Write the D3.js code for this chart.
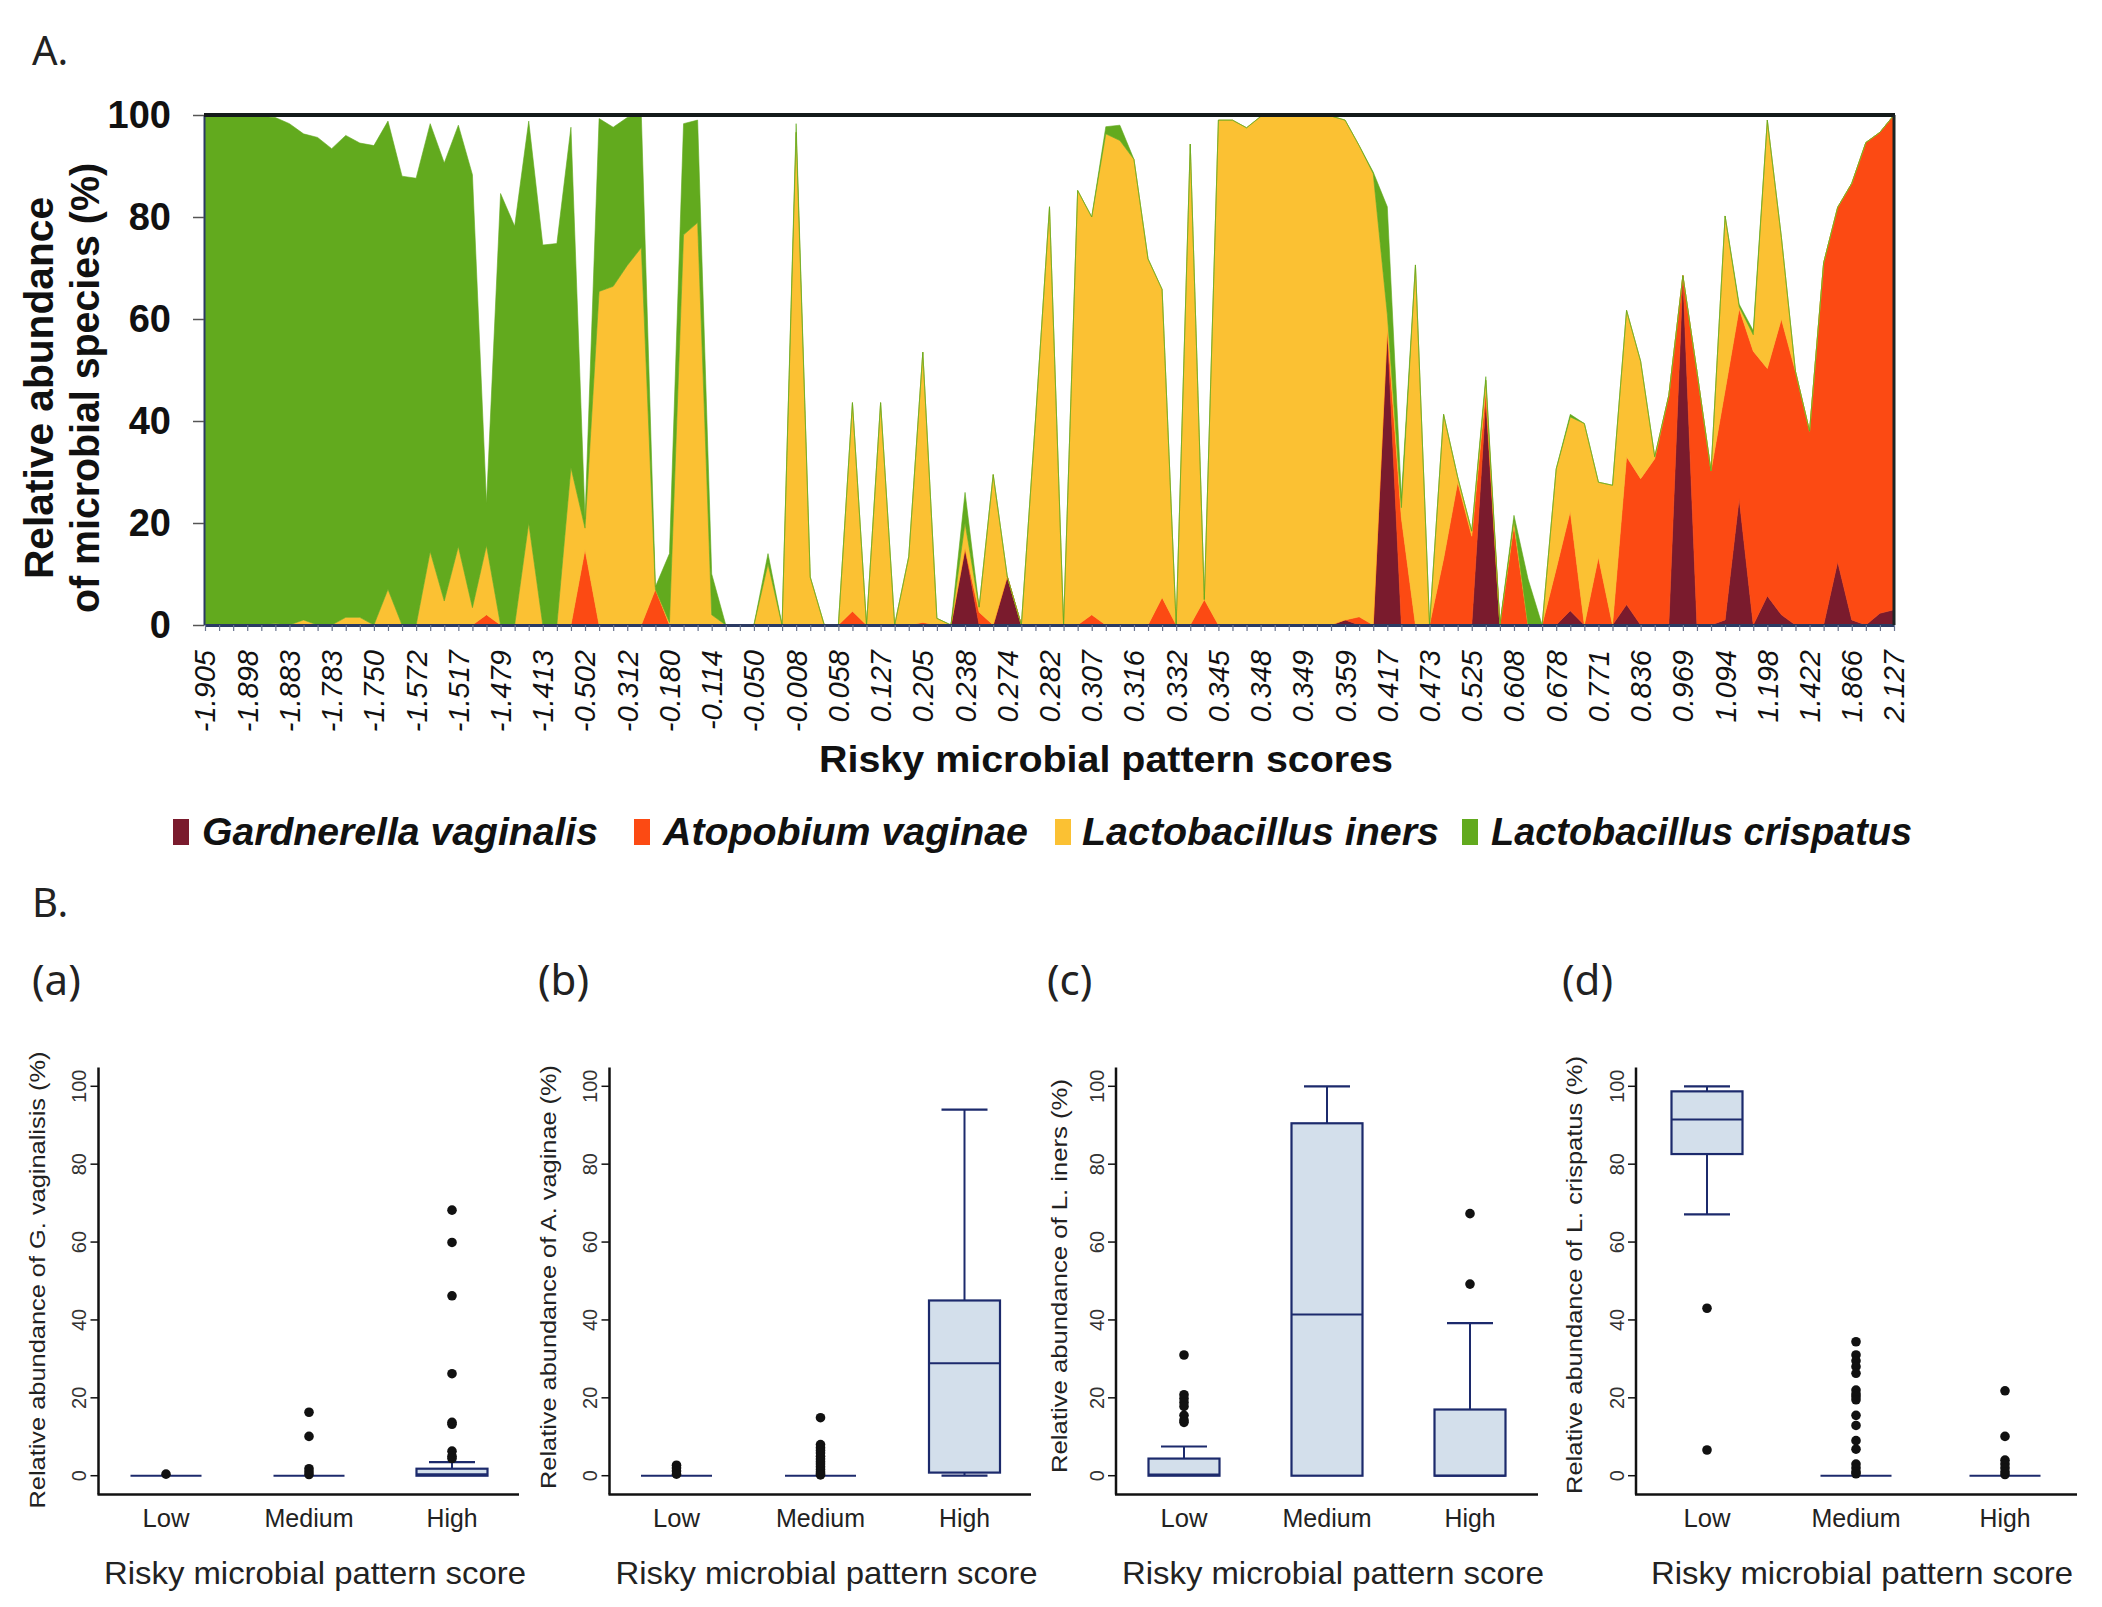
<!DOCTYPE html>
<html><head><meta charset="utf-8">
<script src="https://cdn.jsdelivr.net/npm/d3@7"></script>
<style>body{margin:0;background:#fff} svg{display:block}</style>
</head><body>
<script>
// ---------------- DATA ----------------
const tickLabels = ["-1.905","-1.898","-1.883","-1.783","-1.750","-1.572","-1.517","-1.479","-1.413","-0.502","-0.312","-0.180","-0.114","-0.050","-0.008","0.058","0.127","0.205","0.238","0.274","0.282","0.307","0.316","0.332","0.345","0.348","0.349","0.359","0.417","0.473","0.525","0.608","0.678","0.771","0.836","0.969","1.094","1.198","1.422","1.866","2.127"];
const labelEvery = 3;

const gardnerella = [0,0,0,0,0,0,0,0,0,0, 0,0,0,0,0,0,0,0,0,0, 0,0,0,0,0,0,0,0,0,0,
 0,0,0,0,0,0,0,0,0,0, 0,0,0,0,0,0,0,0,0,0, 0,0,0,0,15,0,0,9.5,0,0,
 0,0,0,0,0,0,0,0,0,0, 0,0,0,0,0,0,0,0,0,0, 0,1,0,0,58,0,0,0,0,0,
 0,44,0,0,0,0,0,2.8,0,0, 0,4,0,0,0,68.5,0,0,1,24.8, 0,5.7,2,0,0,0,12.4,1,0,2.3, 3];
const atopobium = [0,0,0,0,0,0,0,0,0,0, 0,0,0,0,0,0,0,0,0,0, 2,0,0,0,0,0,0,14.8,0,0,
 0,0,7,0,0,0,0,0,0,0, 0,0,0,0,0,0,2.7,0,0,0, 0,0.5,0,0,0,2.5,0,0,0,0,
 0,0,0,2,0,0,0,0,5.4,0, 0,5,0,0,0,0,0,0,0,0, 0,0,1.6,0,0,21,0,0,13,28,
 17.4,2,0,19.5,0,0,11,19.5,0,13.3, 0,29,28.7,32.6,45,0,49.7,30.2,45,37.2, 53.7,44.6,58,49.7,38,71,69.5,85.6,94.6,94.3, 97];
const iners = [0,0,0,0,0,0.3,0,1,0,0, 1.5,1.5,0,7,0,0,14.4,4.7,15.4,3.4, 13.6,0,0,20,0,0,30.9,4.2,65.4,66.4,
 70.5,74,0,0.5,76.5,78.9,2,0,0,0, 12,0,96.6,9.4,0,0,40.9,0,43.6,0, 13.4,53,1.3,0,5,1,29.5,0,0,40,
 82,0,85.2,78,96.3,95,91.3,71.8,60.4,0, 94.3,0,99,99,97.5,99.7,100,100,99.7,100, 99.8,98,92.4,88.5,3,2,70.6,0,28.3,1,
 1,2,0,1,0,0,19.6,18.5,39.5,14.7, 27.4,28.7,23,0.4,0,0,0,0,34.2,0.4, 3.2,48.7,16,0,0,0,0,0,0,0, 0];
const crispatus = [100,100,100,99.8,99.7,99.2,98.3,95.3,95.6,93.4, 94.5,93,94,91.8,88,87.6,83.9,85.9,82.6,84.9, 8.2,84.6,78.2,78.8,74.5,74.8,66.7,1.8,33.9,31.2,
 29,26,0.5,13.5,21.8,20.1,8,0,0,0, 2,0,1.7,0,0,0,0,0,0,0, 0,0,0,0,6,0,0,0,0,0,
 0,0,0,0,1.4,3,0,0,0,0, 0,0,0,0,0,0,0,0,0.3,0, 0,0,0,0.3,21,2,0,0,0,0,
 0,0.7,0,1,9,0,0,0.5,0,0, 0,0,0,0,0,0,0,0,0,0.5, 0.8,0,0,0,0,0,0,0,0,0, 0];

const speciesNames = ["Gardnerella vaginalis","Atopobium vaginae","Lactobacillus iners","Lactobacillus crispatus"];
const speciesColors = ["#7a1b2d","#fc4a13","#fbc133","#62aa1e"];

const boxCategories = ["Low","Medium","High"];
const yTicksB = [0,20,40,60,80,100];
// box stats: [q1, median, q3, whiskerLow, whiskerHigh]
const statsGV = [[0,0,0,0,0],[0,0,0,0,0],[0,0.4,1.8,0,3.5]];
const outGV = [[0.4],[16.3,10.1,1.8,1.0,0.3],[68.2,59.9,46.2,26.2,13.7,13.2,6.3,5.0,4.4]];
const statsAV = [[0,0,0,0,0],[0,0,0,0,0],[0.8,28.9,45,0,94]];
const outAV = [[2.7,2,1.2,0.4],[14.9,8,7.2,6.5,5.8,5,4.3,3.6,3,2.3,1.6,1,0.5,0.2],[]];
const statsLI = [[0,0.3,4.4,0,7.5],[0,41.4,90.5,0,100],[0,0,17,0,39.2]];
const outLI = [[31,20.8,19.8,18.8,17.8,15.5,14.3,13.7],[],[67.3,49.2]];
const statsLC = [[82.6,91.5,98.7,67.1,100],[0,0,0,0,0],[0,0,0,0,0]];
const outLC = [[43,6.6],[34.4,31,29.5,28,26.3,22,21,20.3,19.5,15.5,12.9,9,6.8,3,2,1,0.5],[21.8,10.1,4,3,2,1,0.3]];

const panelLetters = ["(a)","(b)","(c)","(d)"];
const panelTitles = ["Relative abundance of G. vaginalisis (%)","Relative abundance of A. vaginae (%)","Relative abundance of L. iners (%)","Relative abundance of L. crispatus (%)"];

// ---------------- DRAW ----------------
const W = 2102, H = 1607;
const svg = d3.select("body").append("svg").attr("width", W).attr("height", H);
svg.append("rect").attr("width", W).attr("height", H).attr("fill", "#fff");
const SANS = "'Liberation Sans', Arial, sans-serif";
const LBL = "'Noto Sans', 'Open Sans', sans-serif";

// ---- Panel A ----
const aLeft = 205, aRight = 1894, aTop = 115, aBottom = 625;
const n = gardnerella.length;
const xA = d3.scaleLinear().domain([0, n - 1]).range([aLeft, aRight]);
const yA = d3.scaleLinear().domain([0, 100]).range([aBottom, aTop]);

svg.append("text").attr("x", 32).attr("y", 65).attr("font-family", LBL)
  .attr("font-size", 40).attr("fill", "#222").text("A.");

svg.append("defs").append("clipPath").attr("id", "clipA").append("rect")
  .attr("x", aLeft).attr("y", aTop).attr("width", aRight - aLeft).attr("height", aBottom - aTop);

const rows = d3.range(n).map(i => ({i, g: gardnerella[i], a: atopobium[i], l: iners[i], c: crispatus[i]}));
const series = d3.stack().keys(["g", "a", "l", "c"])(rows);
const area = d3.area().x(d => xA(d.data.i)).y0(d => yA(d[0])).y1(d => yA(d[1]));
svg.append("g").attr("clip-path", "url(#clipA)")
  .selectAll("path").data(series).join("path")
  .attr("d", area).attr("fill", (d, k) => speciesColors[k])
  .attr("stroke", (d, k) => speciesColors[k]).attr("stroke-width", 0.6);

// left axis
const gyA = svg.append("g").attr("transform", `translate(${aLeft - 1},0)`)
  .call(d3.axisLeft(yA).tickValues([0, 20, 40, 60, 80, 100]).tickSize(11).tickPadding(22).tickSizeOuter(0));
gyA.select(".domain").attr("stroke", "#2a3a63").attr("stroke-width", 2);
gyA.selectAll(".tick line").attr("stroke", "#555").attr("stroke-width", 1.5);
gyA.selectAll(".tick text").attr("font-family", SANS).attr("font-weight", "bold")
  .attr("font-size", 38).attr("fill", "#111");

// bottom axis (ticks at every sample)
const gxA = svg.append("g").attr("transform", `translate(0,${aBottom})`)
  .call(d3.axisBottom(xA).tickValues(d3.range(n)).tickSize(6).tickFormat("").tickSizeOuter(0));
gxA.select(".domain").attr("stroke", "#2a3a63").attr("stroke-width", 3);
gxA.selectAll(".tick line").attr("stroke", "#6a7590").attr("stroke-width", 1.2);

// frame top/right
svg.append("line").attr("x1", aLeft - 1).attr("x2", aRight + 1).attr("y1", aTop).attr("y2", aTop)
  .attr("stroke", "#141a1a").attr("stroke-width", 4);
svg.append("line").attr("x1", aRight).attr("x2", aRight).attr("y1", aTop).attr("y2", aBottom)
  .attr("stroke", "#1c2424").attr("stroke-width", 3);

// x tick labels (every 3rd sample)
svg.append("g").selectAll("text").data(tickLabels).join("text")
  .attr("transform", (d, k) => `translate(${xA(k * labelEvery)},650) rotate(-90)`)
  .attr("text-anchor", "end").attr("dy", "0.36em")
  .attr("font-family", SANS).attr("font-style", "italic").attr("font-size", 29).attr("fill", "#111")
  .text(d => d);

svg.append("text").attr("x", 1106).attr("y", 772).attr("text-anchor", "middle")
  .attr("font-family", SANS).attr("font-weight", "bold").attr("font-size", 37).attr("fill", "#111")
  .attr("textLength", 574).attr("lengthAdjust", "spacingAndGlyphs")
  .text("Risky microbial pattern scores");

// y title
const yt = svg.append("text").attr("transform", "translate(53,388) rotate(-90)")
  .attr("text-anchor", "middle").attr("font-family", SANS).attr("font-weight", "bold")
  .attr("font-size", 40).attr("fill", "#111");
yt.append("tspan").attr("x", 0).attr("y", 0).attr("textLength", 382).attr("lengthAdjust", "spacingAndGlyphs").text("Relative abundance");
yt.append("tspan").attr("x", 0).attr("y", 46).attr("textLength", 450).attr("lengthAdjust", "spacingAndGlyphs").text("of microbial species (%)");

// legend
const legSq = [173, 634, 1055, 1462], legTx = [202, 663, 1082, 1491], legLen = [396, 365, 357, 421];
const leg = svg.append("g");
leg.selectAll("rect").data(speciesNames).join("rect")
  .attr("x", (d, k) => legSq[k]).attr("y", 819).attr("width", 16).attr("height", 26)
  .attr("fill", (d, k) => speciesColors[k]);
leg.selectAll("text").data(speciesNames).join("text")
  .attr("x", (d, k) => legTx[k]).attr("y", 845)
  .attr("font-family", SANS).attr("font-weight", "bold").attr("font-style", "italic")
  .attr("font-size", 38).attr("fill", "#111")
  .attr("textLength", (d, k) => legLen[k]).attr("lengthAdjust", "spacingAndGlyphs")
  .text(d => d);

// ---- Panel B ----
svg.append("text").attr("x", 32).attr("y", 917).attr("font-family", LBL)
  .attr("font-size", 40).attr("fill", "#222").text("B.");

const panels = [
  {axisX: 98.5, c0: 166, c2: 452, xEnd: 519, letterX: 32, titleX: 38, titleY: 1280, titleLen: 457, stats: statsGV, outs: outGV},
  {axisX: 609.5, c0: 676.5, c2: 964.5, xEnd: 1031, letterX: 538, titleX: 549, titleY: 1277, titleLen: 424, stats: statsAV, outs: outAV},
  {axisX: 1116, c0: 1184, c2: 1470, xEnd: 1538, letterX: 1047, titleX: 1060, titleY: 1276, titleLen: 394, stats: statsLI, outs: outLI},
  {axisX: 1636, c0: 1707, c2: 2005, xEnd: 2077, letterX: 1562, titleX: 1575, titleY: 1275, titleLen: 438, stats: statsLC, outs: outLC}
];
const yB = d3.scaleLinear().domain([-4.8, 104.8]).range([1494.4, 1067.6]);
const catLen = [47, 89, 51];
const boxW = 71, capW = 46;
const navy = "#1c2a6c";

panels.forEach((p, pi) => {
  const g = svg.append("g");
  const xB = d3.scalePoint().domain(boxCategories).range([p.c0, p.c2]);
  g.append("text").attr("x", p.letterX).attr("y", 995).attr("font-family", LBL)
    .attr("font-size", 42).attr("fill", "#222").text(panelLetters[pi]);
  // axes
  g.append("line").attr("x1", p.axisX).attr("x2", p.axisX).attr("y1", yB(104.8)).attr("y2", yB(-4.8))
    .attr("stroke", "#111").attr("stroke-width", 2.5);
  g.append("line").attr("x1", p.axisX - 1).attr("x2", p.xEnd).attr("y1", yB(-4.8)).attr("y2", yB(-4.8))
    .attr("stroke", "#111").attr("stroke-width", 2.5);
  g.selectAll(".yt").data(yTicksB).join("line").attr("class", "yt")
    .attr("x1", p.axisX - 8).attr("x2", p.axisX).attr("y1", d => yB(d)).attr("y2", d => yB(d))
    .attr("stroke", "#111").attr("stroke-width", 1.5);
  g.selectAll(".ytl").data(yTicksB).join("text").attr("class", "ytl")
    .attr("transform", d => `translate(${p.axisX - 12.5},${yB(d)}) rotate(-90)`)
    .attr("text-anchor", "middle").attr("font-family", SANS).attr("font-size", 20).attr("fill", "#333")
    .text(d => d);
  g.append("text").attr("transform", `translate(${p.titleX + 7},${p.titleY}) rotate(-90)`)
    .attr("text-anchor", "middle").attr("font-family", SANS).attr("font-size", 22).attr("fill", "#222")
    .attr("textLength", p.titleLen).attr("lengthAdjust", "spacingAndGlyphs")
    .text(panelTitles[pi]);
  // category labels
  g.selectAll(".cat").data(boxCategories).join("text").attr("class", "cat")
    .attr("x", d => xB(d)).attr("y", 1527).attr("text-anchor", "middle")
    .attr("font-family", SANS).attr("font-size", 26).attr("fill", "#222")
    .attr("textLength", (d, k) => catLen[k]).attr("lengthAdjust", "spacingAndGlyphs")
    .text(d => d);
  g.append("text").attr("x", (p.c0 + p.c2) / 2 + 6).attr("y", 1584).attr("text-anchor", "middle")
    .attr("font-family", SANS).attr("font-size", 32).attr("fill", "#222")
    .attr("textLength", 422).attr("lengthAdjust", "spacingAndGlyphs")
    .text("Risky microbial pattern score");
  // boxes
  boxCategories.forEach((c, ci) => {
    const [q1, med, q3, lo, hi] = p.stats[ci];
    const cx = xB(c);
    if (hi > q3) {
      g.append("line").attr("x1", cx).attr("x2", cx).attr("y1", yB(q3)).attr("y2", yB(hi)).attr("stroke", navy).attr("stroke-width", 2);
      g.append("line").attr("x1", cx - capW / 2).attr("x2", cx + capW / 2).attr("y1", yB(hi)).attr("y2", yB(hi)).attr("stroke", navy).attr("stroke-width", 2.2);
    }
    if (lo < q1) {
      g.append("line").attr("x1", cx).attr("x2", cx).attr("y1", yB(q1)).attr("y2", yB(lo)).attr("stroke", navy).attr("stroke-width", 2);
      g.append("line").attr("x1", cx - capW / 2).attr("x2", cx + capW / 2).attr("y1", yB(lo)).attr("y2", yB(lo)).attr("stroke", navy).attr("stroke-width", 2.2);
    }
    g.append("rect").attr("x", cx - boxW / 2).attr("width", boxW)
      .attr("y", yB(q3)).attr("height", Math.max(0, yB(q1) - yB(q3)))
      .attr("fill", "#d3dfeb").attr("stroke", navy).attr("stroke-width", q3 > q1 ? 2.2 : 2.8);
    g.append("line").attr("x1", cx - boxW / 2).attr("x2", cx + boxW / 2).attr("y1", yB(med)).attr("y2", yB(med))
      .attr("stroke", navy).attr("stroke-width", 2);
    g.selectAll(null).data(p.outs[ci]).join("circle")
      .attr("cx", cx).attr("cy", d => yB(d)).attr("r", 4.8).attr("fill", "#111");
  });
});
</script>
</body></html>
